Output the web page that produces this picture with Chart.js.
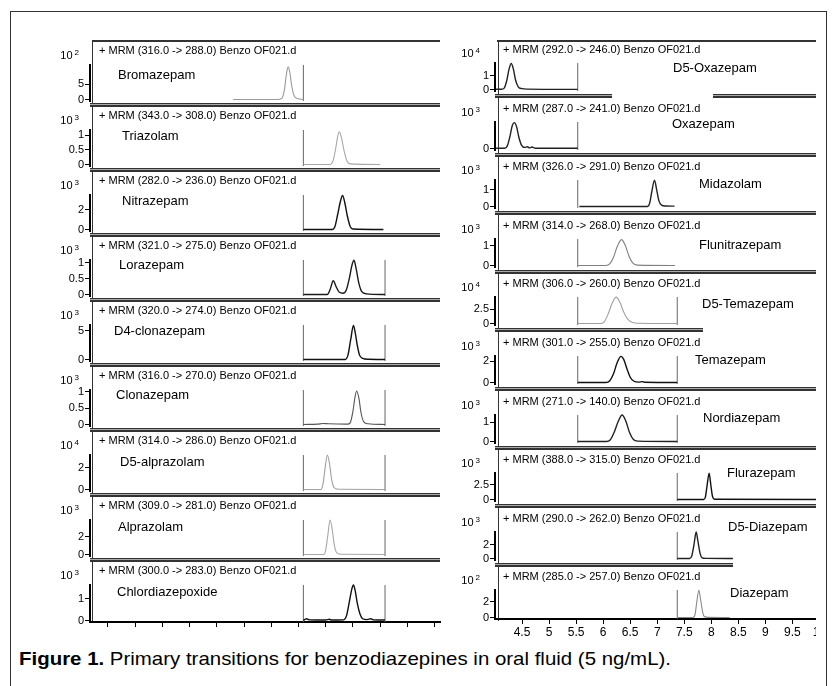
<!DOCTYPE html>
<html>
<head>
<meta charset="utf-8">
<script src="https://cdn.jsdelivr.net/npm/chart.js@4.4.1/dist/chart.umd.min.js"></script>
<style>
  body { margin: 0; width: 832px; height: 686px; background: #fff; position: relative; overflow: hidden;
         font-family: 'Liberation Sans', Arial, sans-serif; color: #000; }
  canvas { position: absolute; }
  .frame { position: absolute; left: 10px; top: 11px; width: 815px; height: 700px;
           border: 1.5px solid #333; border-bottom: none; }
  .line { position: absolute; background: #333; }
  .sep { position: absolute; height: 1px; background: #aaa; border-top: 1px solid #333; border-bottom: 2px solid #333; }
  .hdr { position: absolute; font-size: 11px; line-height: 12px; white-space: nowrap; }
  .name { position: absolute; font-size: 13px; line-height: 15px; white-space: nowrap; }
  .exp { position: absolute; font-size: 11px; line-height: 12px; white-space: nowrap; text-align: right; width: 40px; }
  .exp sup { font-size: 8px; vertical-align: 4px; line-height: 0; margin-left: 2px; }
  #rightClip { position: absolute; left: 462px; top: 0; width: 354px; height: 686px; overflow: hidden; }
  .caption { position: absolute; left: 19px; top: 648px; font-size: 19px; white-space: nowrap;
             font-family: 'Liberation Sans', Arial, sans-serif; transform-origin: 0 0; }
</style>
</head>
<body>
<div class="frame"></div>
<div id="leftCol"></div>
<div id="rightClip"></div>
<div class="caption" id="caption"><b>Figure 1.</b> Primary transitions for benzodiazepines in oral fluid (5 ng/mL).</div>
<script>
// ---- left column (time axis unlabelled in the original) ----
const leftNames = ['Bromazepam', 'Triazolam', 'Nitrazepam', 'Lorazepam', 'D4-clonazepam',
                   'Clonazepam', 'D5-alprazolam', 'Alprazolam', 'Chlordiazepoxide'];
const leftMrm = ['316.0 -> 288.0', '343.0 -> 308.0', '282.0 -> 236.0', '321.0 -> 275.0', '320.0 -> 274.0',
                 '316.0 -> 270.0', '314.0 -> 286.0', '309.0 -> 281.0', '300.0 -> 283.0'];
const leftExp = [2, 3, 3, 3, 3, 3, 4, 3, 3];
const leftYTicks = [[0, 5], [0, 0.5, 1], [0, 2], [0, 0.5, 1], [0, 5], [0, 0.5, 1], [0, 2], [0, 2], [0, 1]];
const leftYMax = [11.3, 1.17, 3.45, 1.08, 6.0, 1.05, 3.2, 3.86, 1.64];
const leftSegments = [[5.59], [5.59], [5.59], [5.59, 7.09], [5.59, 7.09], [5.59, 7.09], [5.59, 7.09], [5.59, 7.09], [5.59, 7.09]];
const leftTimeTicks = [2, 2.5, 3, 3.5, 4, 4.5, 5, 5.5, 6, 6.5, 7, 7.5, 8];

const bromazepam = [[4.30, 0], [5.10, 0], [5.19, 0.3], [5.24, 3], [5.28, 8.5], [5.31, 10.7], [5.34, 9], [5.38, 4], [5.42, 1.2], [5.48, 0.3], [5.59, 0]];
const triazolam = [[5.59, 0], [6.08, 0], [6.13, 0.1], [6.18, 0.5], [6.22, 0.95], [6.25, 1.11], [6.29, 0.9], [6.34, 0.45], [6.39, 0.12], [6.45, 0.02], [7.00, 0]];
const nitrazepam = [[5.59, 0], [6.12, 0], [6.17, 0.3], [6.22, 1.5], [6.27, 2.8], [6.31, 3.4], [6.35, 2.7], [6.40, 1.3], [6.45, 0.3], [6.50, 0.05], [7.06, 0]];
const lorazepam = [[5.59, 0], [6.03, 0], [6.08, 0.15], [6.14, 0.43], [6.19, 0.25], [6.25, 0.07], [6.32, 0.04], [6.38, 0.15], [6.44, 0.55], [6.48, 0.9], [6.52, 1.07], [6.56, 0.8], [6.61, 0.35], [6.66, 0.1], [6.75, 0.02], [7.09, 0]];
const d4Clonazepam = [[5.59, 0], [6.36, 0], [6.41, 0.8], [6.46, 3.5], [6.51, 5.9], [6.54, 4.8], [6.58, 2.5], [6.62, 0.8], [6.68, 0.2], [6.78, 0.03], [7.09, 0]];
const clonazepam = [[5.59, 0], [5.85, 0.01], [5.95, 0.03], [6.05, 0.02], [6.40, 0.01], [6.45, 0.05], [6.50, 0.4], [6.54, 0.85], [6.57, 1.02], [6.61, 0.8], [6.65, 0.35], [6.70, 0.08], [6.78, 0.02], [7.09, 0]];
const d5Alprazolam = [[5.59, 0], [5.91, 0], [5.95, 0.5], [5.99, 2.0], [6.03, 3.2], [6.07, 2.4], [6.11, 0.9], [6.16, 0.15], [6.25, 0.02], [7.09, 0]];
const alprazolam = [[5.59, 0], [5.96, 0], [6.00, 0.5], [6.04, 2.2], [6.08, 3.86], [6.12, 2.8], [6.16, 1.0], [6.21, 0.15], [6.30, 0.02], [7.09, 0]];
const chlordiazepoxide = [[5.59, 0], [5.62, 0.05], [5.65, 0.08], [5.70, 0.03], [6.00, 0.02], [6.07, 0.06], [6.10, 0.02], [6.33, 0.03], [6.38, 0.2], [6.43, 0.8], [6.48, 1.45], [6.51, 1.64], [6.54, 1.4], [6.58, 0.8], [6.63, 0.3], [6.68, 0.08], [6.76, 0.04], [6.83, 0.08], [6.88, 0.03], [7.09, 0.02]];
const leftTraces = [bromazepam, triazolam, nitrazepam, lorazepam, d4Clonazepam, clonazepam, d5Alprazolam, alprazolam, chlordiazepoxide];

// ---- right column ----
const rightNames = ['D5-Oxazepam', 'Oxazepam', 'Midazolam', 'Flunitrazepam', 'D5-Temazepam',
                    'Temazepam', 'Nordiazepam', 'Flurazepam', 'D5-Diazepam', 'Diazepam'];
const rightMrm = ['292.0 -> 246.0', '287.0 -> 241.0', '326.0 -> 291.0', '314.0 -> 268.0', '306.0 -> 260.0',
                  '301.0 -> 255.0', '271.0 -> 140.0', '388.0 -> 315.0', '290.0 -> 262.0', '285.0 -> 257.0'];
const rightExp = [4, 3, 3, 3, 4, 3, 3, 3, 3, 2];
const rightYTicks = [[0, 1], [0], [0, 1], [0, 1], [0, 2.5], [0, 2], [0, 1], [0, 2.5], [0, 2], [0, 2]];
const rightYMax = [1.95, 0.92, 1.59, 1.33, 4.62, 2.52, 1.37, 4.42, 3.79, 3.53];
const rightSegments = [[5.53], [5.53], [5.53], [5.53], [5.53, 7.37], [5.53, 7.37], [5.53, 7.37], [7.37], [7.37], [7.37]];
const rightTimeTicks = [4.5, 5, 5.5, 6, 6.5, 7, 7.5, 8, 8.5, 9, 9.5, 10];

const d5Oxazepam = [[4.02, 0.02], [4.12, 0.02], [4.17, 0.1], [4.22, 0.7], [4.26, 1.5], [4.30, 1.91], [4.34, 1.5], [4.38, 0.7], [4.43, 0.2], [4.50, 0.06], [4.60, 0.03], [5.53, 0.01]];
const oxazepam = [[4.02, 0.01], [4.18, 0.01], [4.23, 0.1], [4.28, 0.45], [4.32, 0.8], [4.36, 0.9], [4.40, 0.75], [4.44, 0.4], [4.49, 0.12], [4.55, 0.04], [4.60, 0.06], [4.64, 0.02], [4.68, 0.05], [4.75, 0.01], [5.53, 0.01]];
const midazolam = [[5.56, 0], [6.82, 0], [6.86, 0.2], [6.90, 0.9], [6.95, 1.58], [6.99, 1.0], [7.03, 0.35], [7.08, 0.08], [7.15, 0.03], [7.32, 0.02]];
const flunitrazepam = [[5.53, 0], [6.05, 0], [6.12, 0.08], [6.19, 0.4], [6.26, 0.95], [6.34, 1.3], [6.41, 1.0], [6.48, 0.45], [6.55, 0.12], [6.63, 0.02], [7.33, 0]];
const d5Temazepam = [[5.53, 0], [5.95, 0], [6.02, 0.3], [6.09, 1.6], [6.17, 3.6], [6.24, 4.6], [6.31, 3.7], [6.38, 2.0], [6.45, 0.8], [6.52, 0.25], [6.62, 0.05], [7.37, 0]];
const temazepam = [[5.53, 0], [6.05, 0], [6.12, 0.15], [6.19, 0.8], [6.26, 1.9], [6.33, 2.48], [6.38, 2.2], [6.44, 1.3], [6.50, 0.5], [6.57, 0.12], [6.65, 0.04], [6.73, 0.08], [6.76, 0.02], [7.37, 0]];
const nordiazepam = [[5.53, 0], [6.06, 0], [6.13, 0.08], [6.20, 0.45], [6.28, 1.05], [6.35, 1.37], [6.42, 1.05], [6.49, 0.45], [6.56, 0.1], [6.64, 0.02], [7.37, 0]];
const flurazepam = [[7.37, 0], [7.86, 0], [7.89, 0.4], [7.92, 2.2], [7.96, 4.4], [7.99, 2.5], [8.02, 0.6], [8.06, 0.05], [10.0, 0]];
const d5Diazepam = [[7.37, 0], [7.60, 0], [7.64, 0.4], [7.68, 2.0], [7.72, 3.78], [7.75, 2.6], [7.79, 0.8], [7.83, 0.1], [7.90, 0.02], [8.40, 0]];
const diazepam = [[7.37, 0], [7.66, 0], [7.70, 0.4], [7.73, 1.9], [7.77, 3.5], [7.80, 2.4], [7.84, 0.7], [7.88, 0.08], [7.95, 0.02], [8.34, 0]];
const rightTraces = [d5Oxazepam, oxazepam, midazolam, flunitrazepam, d5Temazepam, temazepam, nordiazepam, flurazepam, d5Diazepam, diazepam];

// trace colours (some traces are printed in grey)
const leftColors = ['#9a9a9a', '#a8a8a8', '#111', '#1a1a1a', '#111', '#555', '#a0a0a0', '#a8a8a8', '#111'];
const rightColors = ['#222', '#222', '#222', '#808080', '#a0a0a0', '#111', '#222', '#111', '#222', '#8a8a8a'];

Chart.defaults.font.family = "'Liberation Sans', Arial, sans-serif";

function el(parent, cls, css, html) {
    const d = document.createElement('div');
    d.className = cls;
    Object.assign(d.style, css);
    if (html) d.innerHTML = html;
    parent.appendChild(d);
    return d;
}

function drawPanel(p) {
    const canvas = document.createElement('canvas');
    canvas.width = p.w;
    canvas.height = p.h;
    canvas.style.left = p.x + 'px';
    canvas.style.top = p.y + 'px';
    p.parent.appendChild(canvas);

    const yMin = -p.yMax * 1.5 / (p.plotH - 1.5);
    const segData = [];
    p.segs.forEach(t => {
        segData.push({ x: t, y: yMin }, { x: t, y: p.yMax }, { x: t, y: null });
    });
    const dark = ['#111', '#1a1a1a', '#222'].includes(p.color);

    new Chart(canvas, {
        type: 'line',
        data: {
            datasets: [{
                data: p.trace.map(d => ({ x: d[0], y: d[1] })),
                borderColor: p.color,
                borderWidth: dark ? 1.4 : 1.1,
                pointRadius: 0,
                cubicInterpolationMode: 'monotone',
                clip: false
            }, {
                data: segData,
                borderColor: '#666',
                borderWidth: 1,
                pointRadius: 0,
                tension: 0,
                spanGaps: false
            }]
        },
        options: {
            responsive: false,
            animation: false,
            events: [],
            layout: { padding: { top: p.padTop, bottom: p.padBottom, right: p.padRight, left: 0 } },
            plugins: { legend: { display: false }, tooltip: { enabled: false } },
            scales: {
                x: {
                    type: 'linear',
                    min: p.xMin,
                    max: p.xMax,
                    display: p.bottom,
                    afterBuildTicks: s => { s.ticks = p.xTicks.map(v => ({ value: v })); },
                    afterFit: s => { s.height = p.axisH; },
                    grid: { drawOnChartArea: false, drawTicks: true, tickLength: 5, color: '#000', lineWidth: 1 },
                    border: { display: true, width: 2, color: '#000' },
                    ticks: {
                        autoSkip: false,
                        maxRotation: 0,
                        padding: 1,
                        color: '#000',
                        font: { size: 12 },
                        callback: v => p.xLabels ? String(v) : ''
                    }
                },
                y: {
                    type: 'linear',
                    min: yMin,
                    max: p.yMax,
                    afterBuildTicks: s => { s.ticks = p.yTicks.map(v => ({ value: v })); },
                    afterFit: s => { s.width = p.axisW; },
                    grid: { drawOnChartArea: false, drawTicks: true, tickLength: 5, color: '#000', lineWidth: 1 },
                    border: { display: true, width: 2, color: '#000' },
                    ticks: { padding: 1, color: '#000', font: { size: 11 }, callback: v => String(v) }
                }
            }
        }
    });
}

// ---- left column layout ----
const leftCol = document.getElementById('leftCol');
const leftNamePos = [[118, 33], [122, 29], [122, 29], [119, 28], [114, 29], [116, 28], [120, 30], [118, 30], [117, 30]];
el(leftCol, 'line', { left: '92px', top: '40px', width: '348px', height: '2px' });
el(leftCol, 'line', { left: '92px', top: '40px', width: '1px', height: '583px' });
leftNames.forEach((name, i) => {
    const sep = 103 + 65 * i;
    const top = sep - 62;
    const last = i === leftNames.length - 1;
    const plotH = last ? 36.5 : 35.5;
    const axisH = last ? 8 : 0;
    const padBottom = last ? 0 : 9;   // room for the "0" label, chart bottom stays 2.5px above the separator
    drawPanel({
        parent: leftCol, x: 40, y: top, w: 402, h: Math.round(24 + plotH + axisH + padBottom),
        padTop: 24, padBottom: padBottom, padRight: 2, axisW: 50, axisH: axisH, plotH: plotH,
        xMin: 1.67, xMax: 8.10, xTicks: leftTimeTicks, xLabels: false, bottom: last,
        yMax: leftYMax[i], yTicks: leftYTicks[i], segs: leftSegments[i],
        trace: leftTraces[i], color: leftColors[i]
    });
    el(leftCol, 'hdr', { left: '99px', top: (top + 3) + 'px' }, '+ MRM (' + leftMrm[i] + ') Benzo OF021.d');
    el(leftCol, 'exp', { left: '39px', top: (top + 8) + 'px' }, '10<sup>' + leftExp[i] + '</sup>');
    el(leftCol, 'name', { left: leftNamePos[i][0] + 'px', top: (top + leftNamePos[i][1] - 7) + 'px' }, name);
});
leftNames.slice(0, -1).forEach((_, i) => {
    el(leftCol, 'sep', { left: '90px', top: (103 + 65 * i) + 'px', width: '350px' });
});

// ---- right column layout (clipped at both sides like the original scan) ----
const rightCol = document.getElementById('rightClip');
const ox = 462;
const rightNamePos = [[673, 28], [672, 25], [699, 27], [699, 29], [702, 30], [695, 27], [703, 26], [727, 23], [728, 18], [730, 26]];
const rightSepParts = [[[495, 612], [713, 816]], [[495, 816]], [[495, 816]], [[495, 816]], [[495, 703]],
                       [[495, 816]], [[495, 816]], [[495, 816]], [[495, 733]]];
el(rightCol, 'line', { left: (497 - ox) + 'px', top: '40px', width: '330px', height: '2px' });
el(rightCol, 'line', { left: (498 - ox) + 'px', top: '40px', width: '1px', height: '581px' });
rightNames.forEach((name, i) => {
    const sep = Math.round(94 + 58.6 * i);
    const top = sep - 55;
    const last = i === rightNames.length - 1;
    const plotH = last ? 29 : 28;
    const axisH = last ? 19 : 0;
    const padBottom = last ? 0 : 9;
    drawPanel({
        parent: rightCol, x: 0, y: top, w: 368, h: Math.round(24 + plotH + axisH + padBottom),
        padTop: 24, padBottom: padBottom, padRight: 10, axisW: 33, axisH: axisH, plotH: plotH,
        xMin: 4.0, xMax: 10.01, xTicks: rightTimeTicks, xLabels: true, bottom: last,
        yMax: rightYMax[i], yTicks: rightYTicks[i], segs: rightSegments[i],
        trace: rightTraces[i], color: rightColors[i]
    });
    el(rightCol, 'hdr', { left: (503 - ox) + 'px', top: (top + 4) + 'px' }, '+ MRM (' + rightMrm[i] + ') Benzo OF021.d');
    el(rightCol, 'exp', { left: (440 - ox) + 'px', top: (top + 8) + 'px' }, 'x10<sup>' + rightExp[i] + '</sup>');
    el(rightCol, 'name', { left: (rightNamePos[i][0] - ox) + 'px', top: (top + rightNamePos[i][1] - 7) + 'px' }, name);
});
rightSepParts.forEach((parts, i) => {
    const sep = Math.round(94 + 58.6 * i);
    parts.forEach(s => {
        el(rightCol, 'sep', { left: (s[0] - ox) + 'px', top: sep + 'px', width: (s[1] - s[0]) + 'px' });
    });
});

// the printed caption is set in a condensed face: squeeze it to the original width
const cap = document.getElementById('caption');
cap.style.transform = 'scaleX(' + (652 / cap.getBoundingClientRect().width) + ')';
</script>
</body>
</html>
